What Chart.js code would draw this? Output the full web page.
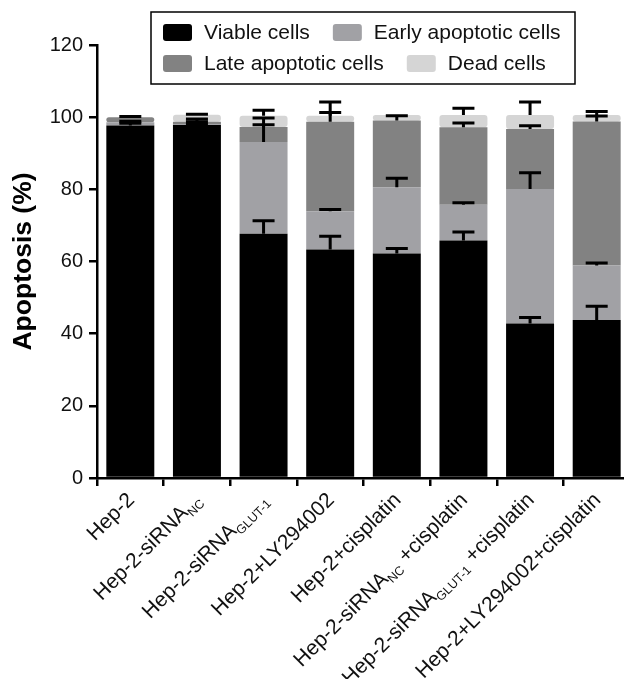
<!DOCTYPE html>
<html>
<head>
<meta charset="utf-8">
<script src="https://cdn.jsdelivr.net/npm/chart.js@4.4.1/dist/chart.umd.min.js"></script>
<style>
  html, body { margin: 0; padding: 0; background: #fff; overflow: hidden; }
  #wrap { position: absolute; left: 0; top: 0; width: 640px; height: 679px; }
</style>
</head>
<body>
<div id="wrap"><canvas id="c"></canvas></div>
<script>
// ---- data ----
const categories = ['Hep-2', 'Hep-2-siRNA_{NC}', 'Hep-2-siRNA_{GLUT-1}', 'Hep-2+LY294002',
  'Hep-2+cisplatin', 'Hep-2-siRNA_{NC} +cisplatin', 'Hep-2-siRNA_{GLUT-1} +cisplatin', 'Hep-2+LY294002+cisplatin'];
const seriesNames = ['Viable cells', 'Early apoptotic cells', 'Late apoptotic cells', 'Dead cells'];
const viable = [97.7, 97.8, 67.7, 63.3, 62.2, 65.8, 42.8, 43.8];
const early  = [0.9, 0.3, 25.4, 10.6, 18.4, 9.9, 37.3, 15.1];
const late   = [1.4, 0.6, 4.2, 24.8, 18.5, 21.5, 16.6, 39.9];
const dead   = [0.0, 2.0, 3.1, 1.7, 1.5, 3.4, 3.9, 1.8];
const viableErr = [0.6, 0.2, 3.6, 3.7, 1.4, 2.4, 1.7, 3.8];
const earlyErr  = [0.3, 0.6, 4.8, 0.5, 2.5, 0.6, 4.5, 0.7];
const lateErr   = [0.2, 0.8, 2.5, 2.6, 1.3, 1.2, 0.9, 1.5];
const deadErr   = [0.0, 0.1, 1.5, 3.8, 0.0, 1.9, 3.6, 1.0];
const yTicks = [0, 20, 40, 60, 80, 100, 120];
const yTitle = 'Apoptosis (%)';

// ---- styles ----
const colors = ['#000000', '#a1a1a5', '#828282', '#d5d5d5'];
const FONT = '"Liberation Sans", Arial, Helvetica, sans-serif';
const values = [viable, early, late, dead];
const errs = [viableErr, earlyErr, lateErr, deadErr];

function parseLabel(s) {
  const parts = [];
  const re = /_\{([^}]*)\}/g;
  let last = 0, m;
  while ((m = re.exec(s)) !== null) {
    if (m.index > last) parts.push({ t: s.slice(last, m.index), sub: false });
    parts.push({ t: m[1], sub: true });
    last = re.lastIndex;
  }
  if (last < s.length) parts.push({ t: s.slice(last), sub: false });
  return parts;
}

const errorBars = {
  id: 'errorBars',
  afterDatasetsDraw(chart) {
    const ctx = chart.ctx, y = chart.scales.y;
    ctx.save();
    ctx.strokeStyle = '#000';
    ctx.lineWidth = 3;
    ctx.lineCap = 'butt';
    for (let d = 0; d < values.length; d++) {
      const meta = chart.getDatasetMeta(d);
      meta.data.forEach((bar, j) => {
        let top = 0;
        for (let k = 0; k <= d; k++) top += values[k][j];
        const e = errs[d][j];
        if (!e) return;
        const y0 = y.getPixelForValue(top), y1 = y.getPixelForValue(top + e);
        const x = bar.x;
        ctx.beginPath();
        ctx.moveTo(x, y0); ctx.lineTo(x, y1);
        ctx.moveTo(x - 11, y1); ctx.lineTo(x + 11, y1);
        ctx.stroke();
      });
    }
    ctx.restore();
  }
};

const xLabels = {
  id: 'xLabels',
  afterDraw(chart) {
    const ctx = chart.ctx, xs = chart.scales.x;
    const bottom = chart.chartArea.bottom;
    ctx.save();
    ctx.fillStyle = '#111';
    categories.forEach((lab, i) => {
      const parts = parseLabel(lab);
      const x = xs.getPixelForTick(i);
      ctx.save();
      ctx.translate(x + 1, bottom + 19);
      ctx.rotate(-Math.PI / 4);
      ctx.textBaseline = 'middle';
      ctx.textAlign = 'left';
      let total = 0;
      parts.forEach(p => {
        ctx.font = p.sub ? '12.5px ' + FONT : '21px ' + FONT;
        total += ctx.measureText(p.t).width;
      });
      let cx = -total;
      parts.forEach(p => {
        ctx.font = p.sub ? '12.5px ' + FONT : '21px ' + FONT;
        ctx.fillText(p.t, cx, p.sub ? 7 : 0);
        cx += ctx.measureText(p.t).width;
      });
      ctx.restore();
    });
    ctx.restore();
  }
};

const boxLegend = {
  id: 'boxLegend',
  afterDraw(chart) {
    const ctx = chart.ctx;
    ctx.save();
    ctx.strokeStyle = '#000';
    ctx.lineWidth = 1.5;
    ctx.strokeRect(151, 12, 424, 72);
    ctx.font = '21px ' + FONT;
    ctx.textBaseline = 'middle';
    const rows = [[0, 1], [2, 3]];
    const rowY = [32.5, 63.5];
    rows.forEach((r, ri) => {
      let x = 163;
      r.forEach(k => {
        ctx.fillStyle = colors[k];
        ctx.beginPath();
        ctx.roundRect(x, rowY[ri] - 8.5, 29, 17, 3);
        ctx.fill();
        ctx.fillStyle = '#111';
        ctx.fillText(seriesNames[k], x + 41, rowY[ri] + 1);
        x = x + 41 + ctx.measureText(seriesNames[k]).width + 23;
      });
    });
    ctx.restore();
  }
};

new Chart(document.getElementById('c'), {
  type: 'bar',
  data: {
    labels: categories,
    datasets: seriesNames.map((n, k) => ({
      label: n,
      data: values[k],
      backgroundColor: colors[k],
      borderWidth: 0,
      borderRadius: 3,
      borderSkipped: false,
      barPercentage: 0.72,
      categoryPercentage: 1.0
    }))
  },
  options: {
    responsive: true,
    maintainAspectRatio: false,
    animation: false,
    devicePixelRatio: 1,
    layout: { padding: { top: 45, right: 10, left: 0, bottom: 0 } },
    plugins: { legend: { display: false }, tooltip: { enabled: false } },
    scales: {
      x: {
        stacked: true,
        afterFit(s) { s.height = 201; },
        grid: { drawOnChartArea: false, drawTicks: true, tickLength: 8, color: '#000', lineWidth: 2.5 },
        border: { color: '#000', width: 2.5 },
        ticks: { display: false }
      },
      y: {
        stacked: true,
        min: 0, max: 120,
        afterFit(s) { s.width = 97; },
        afterBuildTicks(s) { s.ticks = yTicks.map(v => ({ value: v })); },
        grid: { drawOnChartArea: false, drawTicks: true, tickLength: 8, color: '#000', lineWidth: 2.5 },
        border: { color: '#000', width: 2.5 },
        ticks: { color: '#111', font: { family: FONT, size: 20 }, padding: 6 },
        title: { display: true, text: yTitle, color: '#000', font: { family: FONT, size: 26.5, weight: 'bold' }, padding: { top: 8, bottom: 0 } }
      }
    }
  },
  plugins: [errorBars, xLabels, boxLegend]
});
</script>
</body>
</html>
